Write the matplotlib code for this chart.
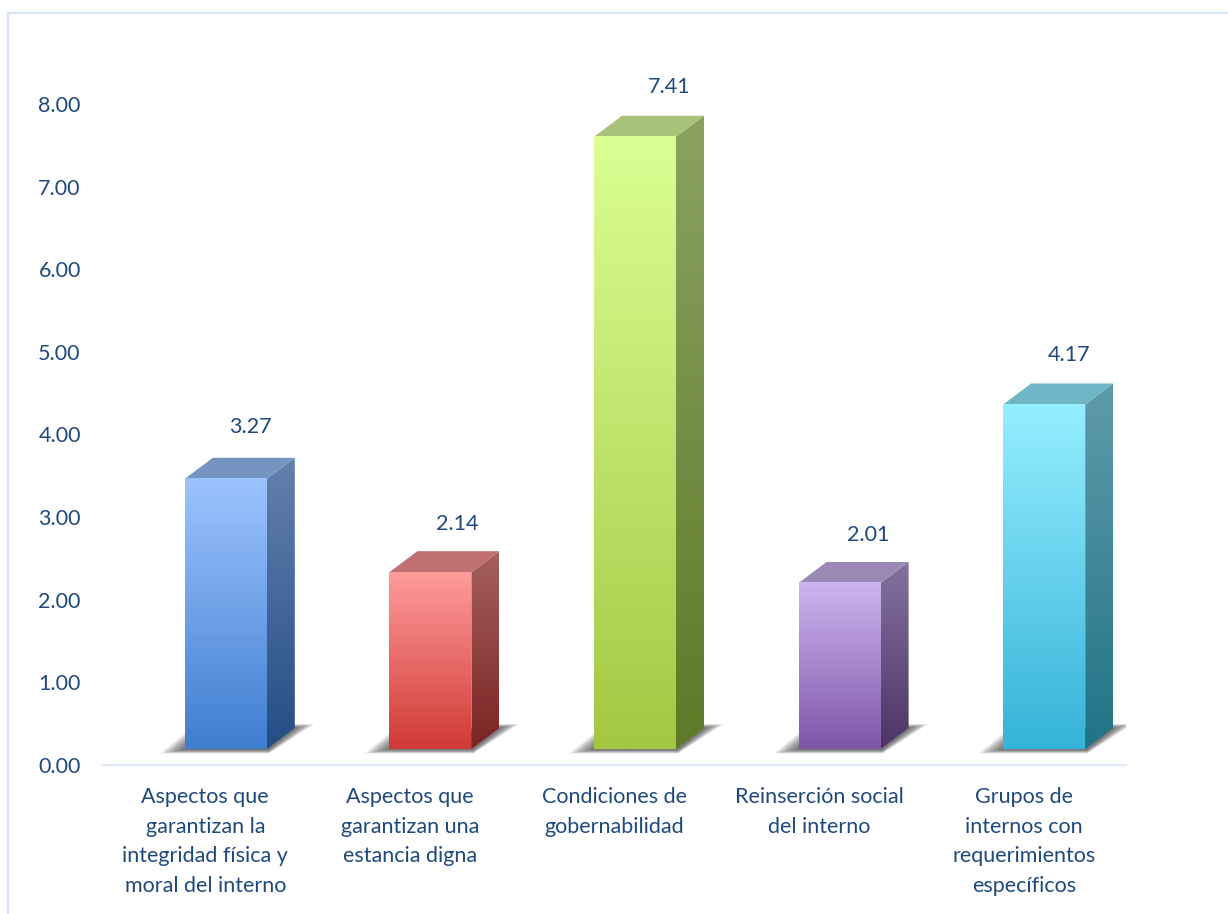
import numpy as np
import matplotlib
matplotlib.use("Agg")
import matplotlib.pyplot as plt
from matplotlib.colors import LinearSegmentedColormap
from matplotlib.patches import Polygon

categories = ["Aspectos que\ngarantizan la\nintegridad física y\nmoral del interno",
              "Aspectos que\ngarantizan una\nestancia digna",
              "Condiciones de\ngobernabilidad",
              "Reinserción social\ndel interno",
              "Grupos de\ninternos con\nrequerimientos\nespecíficos"]
values = [3.27, 2.14, 7.41, 2.01, 4.17]
y_ticks = [0, 1, 2, 3, 4, 5, 6, 7, 8]

front_cols = [("#9DC3FF", "#3F7ED0"), ("#FF9C9C", "#D03A36"), ("#DAFF93", "#A4C843"),
              ("#CDB5F0", "#7F56A8"), ("#95EEFF", "#35B3D8")]
side_cols = [("#6480AE", "#254E85"), ("#A56060", "#7A2422"), ("#8BA263", "#5E7928"),
             ("#85729F", "#4C3465"), ("#5F9BAA", "#217387")]
top_cols = ["#7594C2", "#C07070", "#A9C27A", "#9C88B5", "#6FB5C5"]
text_col = "#1F497D"
font_size = 15.5

W, H = 1228, 914
plt.rcParams['font.family'] = ['Lato', 'DejaVu Sans']
fig = plt.figure(figsize=(W / 100, H / 100), dpi=100, facecolor="white")

# axes box in pixels: axis line 103-1126, 0.00 at y=765, 8.00 at y=104
ax = fig.add_axes([103 / W, (H - 765) / H, 1023 / W, 661 / H])
ax.patch.set_alpha(0)

px_x = 5 / 1023      # one pixel in x data units
px_y = 8 / 661       # one pixel in y data units
bar_w = 82 * px_x
off = 20.5 * px_x    # bar sits a bit right of the category centre
lift = 16 * px_y     # floor of the bar above the axis line
dx = 28 * px_x
dy = 21 * px_y

# value labels are placed by hand in the original, nudges in pixels
label_dx = [45, 47, 55, 49, 45]
label_dy = [21, 17, 19, 17, 18]


def grad(c1, c2, extent, clip=None):
    cm = LinearSegmentedColormap.from_list("g", [c1, c2])
    im = ax.imshow(np.linspace(0, 1, 256).reshape(-1, 1), cmap=cm, extent=extent,
                   aspect="auto", origin="upper", zorder=3, interpolation="bilinear")
    if clip is not None:
        im.set_clip_path(clip)


for i, v in enumerate(values):
    x0 = i + off - bar_w / 2
    x1 = x0 + bar_w
    top = lift + v

    # soft shadow on the floor, stacked layers shrinking towards the bar
    n = 20
    for k in range(n):
        s = (n - k) / n
        low = lift - (0.5 + 4 * s) * px_y
        high = lift + dy + 4 * s * px_y
        ax.add_patch(Polygon([(x0 - 25 * px_x * s, low),
                              (x1 + 2 * px_x, low),
                              (x1 + dx + 20 * px_x * s, high),
                              (x1 + dx - 4 * px_x, high),
                              (x0, lift + 16 * px_y * s)],
                             closed=True, fc="#3A3A3A", ec="none", alpha=0.05, zorder=2))

    # side face
    side = Polygon([(x1, lift), (x1 + dx, lift + dy), (x1 + dx, top + dy), (x1, top)],
                   closed=True, transform=ax.transData, fc="none", ec="none")
    ax.add_patch(side)
    grad(side_cols[i][0], side_cols[i][1], (x1, x1 + dx, lift, top + dy), clip=side)

    # top face
    ax.add_patch(Polygon([(x0, top), (x1, top), (x1 + dx, top + dy), (x0 + dx, top + dy)],
                         closed=True, fc=top_cols[i], ec="none", zorder=3))

    # front face
    grad(front_cols[i][0], front_cols[i][1], (x0, x1, lift, top))

    ax.text(i + label_dx[i] * px_x, top + dy + label_dy[i] * px_y, f"{v:.2f}",
            ha="center", va="bottom", fontsize=font_size, color=text_col, zorder=4)

ax.set_xlim(-0.5, 4.5)
ax.set_ylim(0, 8)

for s in ["top", "right", "left"]:
    ax.spines[s].set_visible(False)
ax.spines["bottom"].set_color("#E1E7FC")
ax.spines["bottom"].set_linewidth(1.6)

ax.set_yticks(y_ticks)
ax.set_yticklabels([f"{t:.2f}" for t in y_ticks], fontsize=font_size, color=text_col)
ax.set_xticks(range(5))
ax.set_xticklabels(categories, fontsize=font_size, color=text_col, linespacing=1.59)
ax.tick_params(axis="both", length=0)
ax.tick_params(axis="y", pad=16)
ax.tick_params(axis="x", pad=16)

# outer frame, only top and left edges show
frame_col = "#D5E6F8"
fig.add_artist(plt.Line2D([8 / W, 8 / W], [0, (H - 13) / H], color=frame_col, lw=1.5))
fig.add_artist(plt.Line2D([8 / W, 1], [(H - 13) / H, (H - 13) / H], color=frame_col, lw=1.5))

fig.savefig("out.png", dpi=100)
